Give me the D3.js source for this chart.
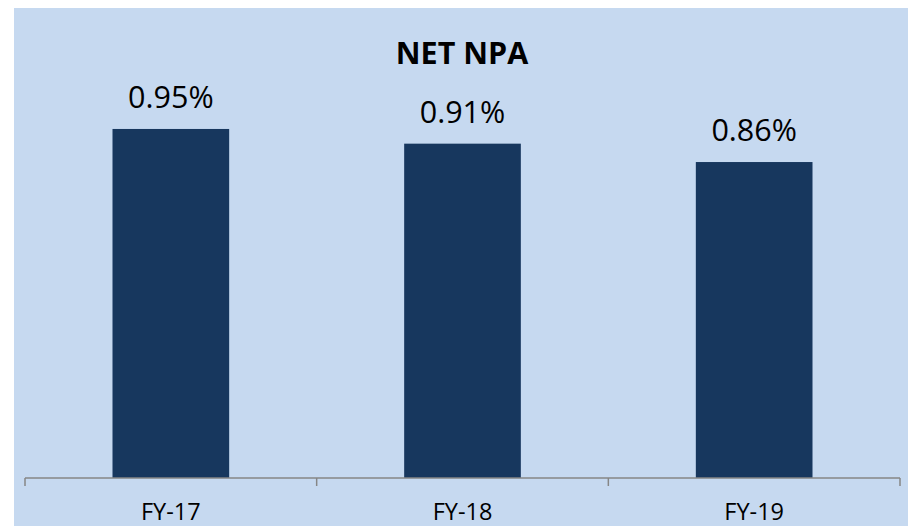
<!DOCTYPE html>
<html>
<head>
<meta charset="utf-8">
<script src="https://cdn.jsdelivr.net/npm/d3@7"></script>
<style>
  body { margin: 0; background: #ffffff; }
  svg { display: block; font-family: "Open Sans", "Noto Sans", sans-serif; }
</style>
</head>
<body>
<svg></svg>
<script>
const categories = ["FY-17", "FY-18", "FY-19"];
const netNpa = [0.95, 0.91, 0.86];
const chartTitle = "NET NPA";

const W = 908, H = 526;

const svg = d3.select("svg")
    .attr("width", W)
    .attr("height", H);

// light blue chart area
svg.append("rect")
    .attr("x", 14)
    .attr("y", 8)
    .attr("width", W - 14)
    .attr("height", H - 8)
    .attr("fill", "#c6d9f0");

// plot area
const plot = { left: 25, right: 900, top: 110.6, bottom: 478 };

const xScale = d3.scaleBand()
    .domain(categories)
    .range([plot.left, plot.right])
    .padding(0);

const yScale = d3.scaleLinear()
    .domain([0, 1])
    .range([plot.bottom, plot.top]);

const barW = xScale.bandwidth() * 0.4;

// bars
svg.append("g")
    .selectAll("rect")
    .data(netNpa)
    .enter()
    .append("rect")
    .attr("x", (d, i) => xScale(categories[i]) + (xScale.bandwidth() - barW) / 2)
    .attr("y", d => yScale(d))
    .attr("width", barW)
    .attr("height", d => yScale(0) - yScale(d))
    .attr("fill", "#17375e");

// value labels
svg.append("g")
    .selectAll("text")
    .data(netNpa)
    .enter()
    .append("text")
    .attr("x", (d, i) => xScale(categories[i]) + xScale.bandwidth() / 2)
    .attr("y", d => yScale(d) - 21)
    .attr("text-anchor", "middle")
    .attr("font-size", 30.5)
    .attr("fill", "#000")
    .text(d => d.toFixed(2) + "%");

// x axis, ticks between categories
const axis = svg.append("g");
axis.append("line")
    .attr("x1", plot.left).attr("x2", plot.right)
    .attr("y1", plot.bottom).attr("y2", plot.bottom)
    .attr("stroke", "#868686")
    .attr("stroke-width", 1.5);

const tickPos = categories.map(c => xScale(c)).concat([plot.right]);
axis.selectAll(".tick")
    .data(tickPos)
    .enter()
    .append("line")
    .attr("class", "tick")
    .attr("x1", d => d).attr("x2", d => d)
    .attr("y1", plot.bottom).attr("y2", plot.bottom + 8)
    .attr("stroke", "#868686")
    .attr("stroke-width", 1.5);

axis.selectAll(".cat")
    .data(categories)
    .enter()
    .append("text")
    .attr("class", "cat")
    .attr("x", d => xScale(d) + xScale.bandwidth() / 2)
    .attr("y", 519.5)
    .attr("text-anchor", "middle")
    .attr("font-size", 23.5)
    .attr("fill", "#000")
    .text(d => d);

// title
svg.append("text")
    .attr("x", 462)
    .attr("y", 64)
    .attr("text-anchor", "middle")
    .attr("font-size", 30.5)
    .attr("font-weight", "bold")
    .attr("fill", "#000")
    .text(chartTitle);
</script>
</body>
</html>
